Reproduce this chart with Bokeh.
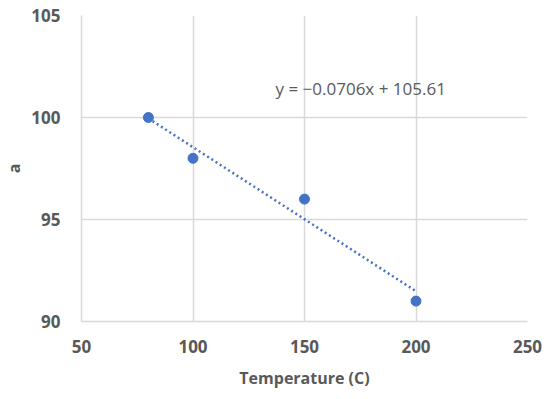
import numpy as np
from bokeh.plotting import figure
from bokeh.models import ColumnDataSource, Label, FixedTicker, Range1d
from bokeh.embed import file_html
from bokeh.resources import INLINE

temperature = [80, 100, 150, 200]
a_values = [100, 98, 96, 91]
x_ticks = [50, 100, 150, 200, 250]
y_ticks = [90, 95, 100, 105]

slope, intercept = np.polyfit(temperature, a_values, 1)
trend_x = [min(temperature), max(temperature)]
trend_y = [slope * x + intercept for x in trend_x]
eq_text = "y = \u22120.0706x + 105.61"

p = figure(width=542, height=391, output_backend="svg", toolbar_location=None,
           x_range=Range1d(50, 250), y_range=Range1d(90, 105),
           min_border_left=81, min_border_top=15, min_border_right=15, min_border_bottom=69)
p.outline_line_color = None
p.background_fill_color = "white"

grid_color = "#d9d9d9"
p.xgrid.ticker = FixedTicker(ticks=x_ticks)
p.ygrid.ticker = FixedTicker(ticks=y_ticks)
p.xgrid.grid_line_color = grid_color
p.ygrid.grid_line_color = grid_color
p.xgrid.grid_line_width = 1.5
p.ygrid.grid_line_width = 1.5

p.xaxis.ticker = FixedTicker(ticks=x_ticks)
p.yaxis.ticker = FixedTicker(ticks=y_ticks)
for ax in (p.xaxis[0], p.yaxis[0]):
    ax.axis_line_color = grid_color
    ax.axis_line_width = 1.5
    ax.major_tick_line_color = None
    ax.minor_tick_line_color = None
    ax.major_label_text_font = "Open Sans"
    ax.major_label_text_font_style = "bold"
    ax.major_label_text_font_size = "17px"
    ax.major_label_text_color = "#595959"
    ax.axis_label_text_font = "Open Sans"
    ax.axis_label_text_font_style = "bold"
    ax.axis_label_text_font_size = "16px"
    ax.axis_label_text_color = "#595959"
p.xaxis.axis_label = "Temperature (C)"
p.yaxis.axis_label = "a"
p.xaxis.major_label_standoff = 12
p.yaxis.major_label_standoff = 15
p.yaxis.axis_label_standoff = 3
p.xaxis.axis_label_standoff = 11

src = ColumnDataSource(dict(x=temperature, y=a_values))
p.line(trend_x, trend_y, line_color="#4472C4", line_width=2.5, line_dash="2 3")
p.scatter("x", "y", source=src, size=10, color="#4472C4")

p.add_layout(Label(x=137, y=101.4, text=eq_text, text_font="Open Sans",
                   text_font_size="17px", text_color="#595959", text_baseline="middle"))

open("out.html", "w").write(file_html(p, INLINE))
